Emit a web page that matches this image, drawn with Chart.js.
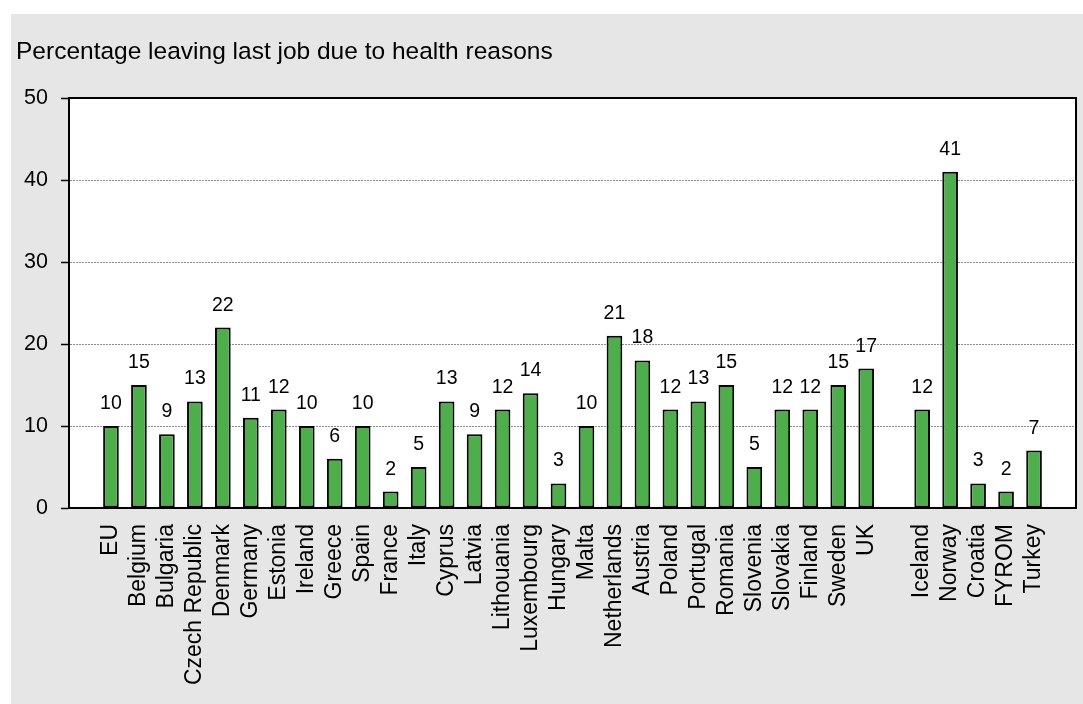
<!DOCTYPE html>
<html>
<head>
<meta charset="utf-8">
<script src="https://cdn.jsdelivr.net/npm/chart.js@4"></script>
<style>
  html, body { margin: 0; padding: 0; background: #ffffff; }
  #wrap { position: relative; width: 1083px; height: 704px; }
</style>
</head>
<body>
<div id="wrap"><canvas id="chart" width="1083" height="704"></canvas></div>
<script>
// EU member states (plus the EU average)
const euCountries = ['EU', 'Belgium', 'Bulgaria', 'Czech Republic', 'Denmark', 'Germany', 'Estonia',
  'Ireland', 'Greece', 'Spain', 'France', 'Italy', 'Cyprus', 'Latvia', 'Lithouania', 'Luxembourg',
  'Hungary', 'Malta', 'Netherlands', 'Austria', 'Poland', 'Portugal', 'Romania', 'Slovenia',
  'Slovakia', 'Finland', 'Sweden', 'UK'];
const euValues = [10, 15, 9, 13, 22, 11, 12, 10, 6, 10, 2, 5, 13, 9, 12, 14, 3, 10, 21, 18, 12, 13, 15, 5, 12, 12, 15, 17];

// Other European countries
const otherCountries = ['Iceland', 'Norway', 'Croatia', 'FYROM', 'Turkey'];
const otherValues = [12, 41, 3, 2, 7];

const yTicks = [0, 10, 20, 30, 40, 50];
const titleText = 'Percentage leaving last job due to health reasons';

// Empty slots separate the groups and pad both ends of the axis
const labels = [''].concat(euCountries, [''], otherCountries, ['']);
const values = [null].concat(euValues, [null], otherValues, [null]);

const FONT = '"Liberation Sans", Arial, sans-serif';

const backdrop = {
  id: 'backdrop',
  beforeDraw(chart) {
    const ctx = chart.ctx;
    const a = chart.chartArea;
    ctx.save();
    ctx.fillStyle = '#e6e6e6';
    ctx.fillRect(11, 14, chart.width - 11, chart.height - 14);
    ctx.fillStyle = '#ffffff';
    ctx.fillRect(a.left, a.top, a.right - a.left, a.bottom - a.top);
    ctx.fillStyle = '#000000';
    ctx.font = '24.5px ' + FONT;
    ctx.textAlign = 'left';
    ctx.textBaseline = 'alphabetic';
    ctx.fillText(titleText, 16, 59);
    ctx.restore();
  },
  afterDraw(chart) {
    const ctx = chart.ctx;
    const a = chart.chartArea;
    ctx.save();
    ctx.strokeStyle = '#000000';
    ctx.lineWidth = 2;
    ctx.strokeRect(a.left, a.top, a.right - a.left, a.bottom - a.top);
    ctx.restore();
  }
};

const valueLabels = {
  id: 'valueLabels',
  afterDatasetsDraw(chart) {
    const ctx = chart.ctx;
    const meta = chart.getDatasetMeta(0);
    ctx.save();
    ctx.fillStyle = '#000000';
    ctx.font = '19.5px ' + FONT;
    ctx.textAlign = 'center';
    ctx.textBaseline = 'alphabetic';
    meta.data.forEach((bar, i) => {
      const v = values[i];
      if (v === null || v === undefined) return;
      ctx.fillText(String(v), bar.x, bar.y - 17);
    });
    ctx.restore();
  }
};

new Chart(document.getElementById('chart'), {
  type: 'bar',
  data: {
    labels: labels,
    datasets: [{
      data: values,
      backgroundColor: '#4caf4a',
      borderColor: '#000000',
      borderWidth: 2,
      borderSkipped: false,
      barPercentage: 0.56,
      categoryPercentage: 1.0
    }]
  },
  options: {
    responsive: false,
    animation: false,
    devicePixelRatio: 1,
    layout: { padding: { left: 0, right: 7, top: 98, bottom: 0 } },
    plugins: {
      legend: { display: false },
      tooltip: { enabled: false },
      title: { display: false }
    },
    scales: {
      x: {
        grid: { display: false, drawTicks: false },
        border: { display: true, color: '#000000', width: 2 },
        ticks: {
          autoSkip: false,
          minRotation: 90,
          maxRotation: 90,
          padding: 16,
          color: '#000000',
          font: { family: FONT, size: 23 }
        },
        afterFit(scale) {
          scale.height = 196;
          scale.paddingLeft = 0;
          scale.paddingRight = 0;
        }
      },
      y: {
        min: 0,
        max: 50,
        afterBuildTicks(scale) { scale.ticks = yTicks.map(v => ({ value: v })); },
        grid: {
          color: '#8c8c8c',
          lineWidth: 1,
          drawTicks: true,
          tickLength: 8,
          tickColor: '#000000',
          tickWidth: 1.5
        },
        border: { display: true, color: '#000000', width: 2, dash: [2, 1] },
        ticks: {
          padding: 13,
          color: '#000000',
          font: { family: FONT, size: 21.5 }
        },
        afterFit(scale) {
          scale.width = 69;
          scale.paddingTop = 0;
          scale.paddingBottom = 0;
        }
      }
    }
  },
  plugins: [backdrop, valueLabels]
});
</script>
</body>
</html>
